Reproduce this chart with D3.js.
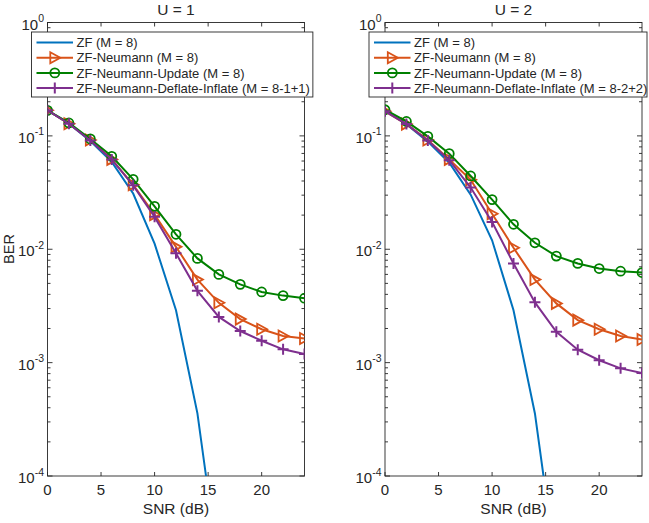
<!DOCTYPE html>
<html>
<head>
<meta charset="utf-8">
<script src="https://cdn.jsdelivr.net/npm/d3@7"></script>
<style>
    body { margin: 0; background: #fff; }
    svg text { font-family: "Liberation Sans", Arial, sans-serif; fill: #262626; }
</style>
</head>
<body>
<div id="chart"></div>
<script>
// SNR points (dB)
const snrDb = [0, 2, 4, 6, 8, 10, 12, 14, 16, 18, 20, 22, 24];
const snrZf = [0, 2, 4, 6, 8, 10, 12, 14, 16];

// U = 1
const zfU1 = [0.168, 0.128, 0.090, 0.059, 0.031, 0.0112, 0.0029, 0.000357, 0.000015];
const neuU1 = [0.168, 0.128, 0.092, 0.062, 0.037, 0.0202, 0.0105, 0.0054, 0.00337, 0.00242, 0.00197, 0.00172, 0.00163];
const updU1 = [0.168, 0.130, 0.094, 0.066, 0.0414, 0.0239, 0.01355, 0.0083, 0.0060, 0.0049, 0.0042, 0.0039, 0.0037];
const dfiU1 = [0.168, 0.128, 0.091, 0.062, 0.0366, 0.0193, 0.0092, 0.0043, 0.00253, 0.0019, 0.00156, 0.00131, 0.00119];

// U = 2
const zfU2 = [0.168, 0.127, 0.089, 0.058, 0.0303, 0.012, 0.0029, 0.000356, 0.000015];
const neuU2 = [0.165, 0.127, 0.092, 0.062, 0.041, 0.0206, 0.0103, 0.0054, 0.00333, 0.00237, 0.00197, 0.00172, 0.0016];
const updU2 = [0.170, 0.134, 0.099, 0.0697, 0.0443, 0.0274, 0.0166, 0.0114, 0.0087, 0.0075, 0.00676, 0.0064, 0.00623];
const dfiU2 = [0.165, 0.127, 0.091, 0.061, 0.035, 0.0174, 0.0075, 0.0034, 0.00187, 0.0013, 0.00105, 0.00089, 0.00081];

const labelsU1 = ['ZF (M = 8)', 'ZF-Neumann (M = 8)', 'ZF-Neumann-Update (M = 8)', 'ZF-Neumann-Deflate-Inflate (M = 8-1+1)'];
const labelsU2 = ['ZF (M = 8)', 'ZF-Neumann (M = 8)', 'ZF-Neumann-Update (M = 8)', 'ZF-Neumann-Deflate-Inflate (M = 8-2+2)'];

const xTicks = [0, 5, 10, 15, 20];
const yDecades = [0, -1, -2, -3, -4];

const colors = ['#0072BD', '#D95319', '#008000', '#7E2F8E'];
const markers = ['none', 'tri', 'circle', 'plus'];

const width = 649, height = 523;
const axisColor = '#262626';

let svg = d3.select('#chart').append('svg')
    .attr('width', width)
    .attr('height', height);

drawPanel({ left: 47.5, right: 304.5, id: 'p1', title: 'U = 1', labels: labelsU1,
    series: [[snrZf, zfU1], [snrDb, neuU1], [snrDb, updU1], [snrDb, dfiU1]], yLabel: true });
drawPanel({ left: 385, right: 642, id: 'p2', title: 'U = 2', labels: labelsU2,
    series: [[snrZf, zfU2], [snrDb, neuU2], [snrDb, updU2], [snrDb, dfiU2]], yLabel: false });

function drawPanel(opt) {
    const top = 22.5, bottom = 476;
    const x = d3.scaleLinear().domain([0, 24]).range([opt.left, opt.right]);
    const y = d3.scaleLog().domain([1e-4, 1]).range([bottom, top]);

    let g = svg.append('g');

    g.append('clipPath').attr('id', 'clip-' + opt.id)
        .append('rect')
        .attr('x', opt.left).attr('y', top)
        .attr('width', opt.right - opt.left).attr('height', bottom - top);

    // caja
    g.append('rect')
        .attr('x', opt.left).attr('y', top)
        .attr('width', opt.right - opt.left).attr('height', bottom - top)
        .attr('fill', 'none').attr('stroke', axisColor).attr('stroke-width', 0.9);

    // ticks x
    xTicks.forEach(function(t) {
        g.append('line').attr('x1', x(t)).attr('x2', x(t)).attr('y1', bottom).attr('y2', bottom - 4)
            .attr('stroke', axisColor).attr('stroke-width', 0.9);
        g.append('line').attr('x1', x(t)).attr('x2', x(t)).attr('y1', top).attr('y2', top + 4)
            .attr('stroke', axisColor).attr('stroke-width', 0.9);
        g.append('text').attr('x', x(t)).attr('y', 495)
            .attr('text-anchor', 'middle').attr('font-size', 15).text(t);
    });

    // ticks y (log, con menores)
    yDecades.forEach(function(k) {
        let v = Math.pow(10, k);
        [opt.left, opt.right].forEach(function(xx, i) {
            let dir = i == 0 ? 1 : -1;
            g.append('line').attr('x1', xx).attr('x2', xx + dir * 5).attr('y1', y(v)).attr('y2', y(v))
                .attr('stroke', axisColor).attr('stroke-width', 0.9);
            if (k > -4) {
                for (let m = 2; m <= 9; m++) {
                    let mv = m * Math.pow(10, k - 1);
                    g.append('line').attr('x1', xx).attr('x2', xx + dir * 3).attr('y1', y(mv)).attr('y2', y(mv))
                        .attr('stroke', axisColor).attr('stroke-width', 0.9);
                }
            }
        });
        let lab = g.append('text').attr('x', opt.left - 3.5).attr('y', y(v) + 7)
            .attr('text-anchor', 'end').attr('font-size', 15);
        lab.append('tspan').text('10');
        lab.append('tspan').attr('dy', -7.5).attr('font-size', 10.5).text(k);
    });

    // series
    let line = d3.line().x(d => x(d[0])).y(d => y(d[1]));
    let plot = g.append('g').attr('clip-path', 'url(#clip-' + opt.id + ')');
    opt.series.forEach(function(s, i) {
        let pts = s[0].map((v, j) => [v, s[1][j]]);
        plot.append('path').datum(pts)
            .attr('d', line)
            .attr('fill', 'none').attr('stroke', colors[i]).attr('stroke-width', 2);
        if (markers[i] != 'none') {
            pts.forEach(function(p) {
                drawMarker(plot, markers[i], x(p[0]), y(p[1]), colors[i]);
            });
        }
    });

    // titulos
    g.append('text').attr('x', (opt.left + opt.right) / 2).attr('y', 15)
        .attr('text-anchor', 'middle').attr('font-size', 15.5).text(opt.title);
    g.append('text').attr('x', (opt.left + opt.right) / 2).attr('y', 514)
        .attr('text-anchor', 'middle').attr('font-size', 15.5).text('SNR (dB)');
    if (opt.yLabel) {
        g.append('text').attr('transform', 'translate(13.5,249) rotate(-90)')
            .attr('text-anchor', 'middle').attr('font-size', 14.5).text('BER');
    }

    // leyenda
    let lx = opt.left - 16, ly = 32, rowH = 15.2;
    let leg = g.append('g');
    let box = leg.append('rect').attr('x', lx).attr('y', ly).attr('height', 65)
        .attr('fill', '#fff').attr('stroke', axisColor).attr('stroke-width', 0.9);
    let maxLen = 0;
    opt.labels.forEach(function(lbl, i) {
        let cy = ly + 10.5 + i * rowH;
        leg.append('line').attr('x1', lx + 5).attr('x2', lx + 41.5).attr('y1', cy).attr('y2', cy)
            .attr('stroke', colors[i]).attr('stroke-width', 2);
        if (markers[i] != 'none') drawMarker(leg, markers[i], lx + 23.3, cy, colors[i]);
        let t = leg.append('text').attr('x', lx + 45).attr('y', cy + 4.6)
            .attr('font-size', 13).text(lbl);
        maxLen = Math.max(maxLen, t.node().getComputedTextLength());
    });
    box.attr('width', Math.min(45 + maxLen + 3, width - 2 - lx));
}

function drawMarker(sel, type, cx, cy, color) {
    if (type == 'circle') {
        sel.append('circle').attr('cx', cx).attr('cy', cy).attr('r', 4.5)
            .attr('fill', 'none').attr('stroke', color).attr('stroke-width', 1.8);
    } else if (type == 'tri') {
        sel.append('path')
            .attr('d', `M${cx - 4.5},${cy - 5.5}L${cx + 5.5},${cy}L${cx - 4.5},${cy + 5.5}Z`)
            .attr('fill', 'none').attr('stroke', color).attr('stroke-width', 1.8);
    } else if (type == 'plus') {
        sel.append('path')
            .attr('d', `M${cx - 5.5},${cy}H${cx + 5.5}M${cx},${cy - 5.5}V${cy + 5.5}`)
            .attr('fill', 'none').attr('stroke', color).attr('stroke-width', 2);
    }
}
</script>
</body>
</html>
